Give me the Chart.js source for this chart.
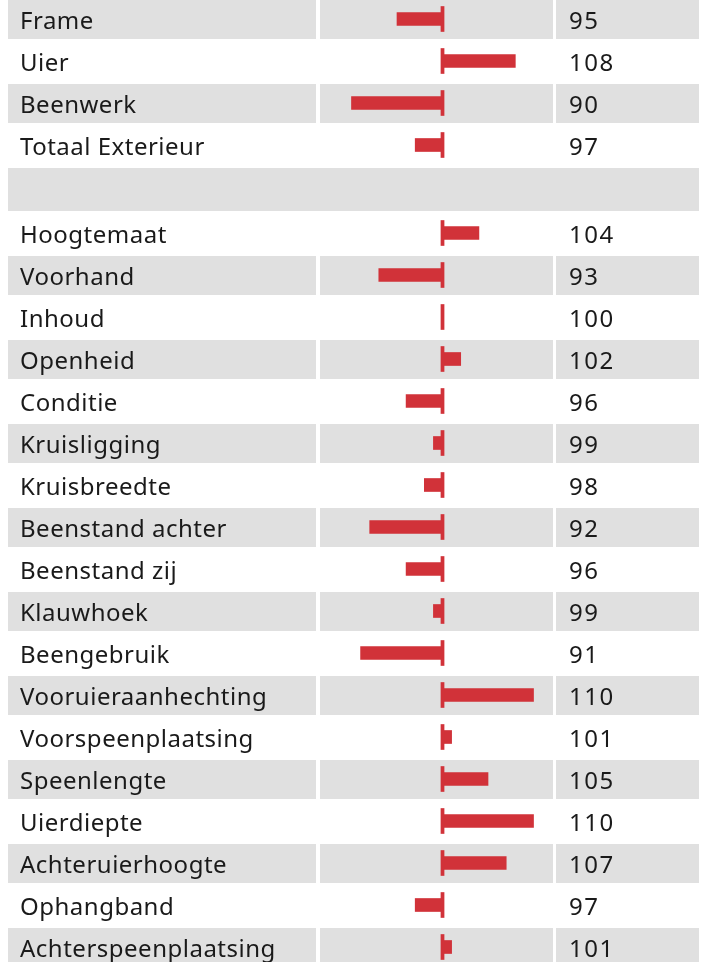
<!DOCTYPE html>
<html>
<head>
<meta charset="utf-8">
<script src="https://cdn.jsdelivr.net/npm/chart.js@4.4.1/dist/chart.umd.min.js"></script>
<style>
  html, body { margin: 0; padding: 0; background: #fff; overflow: hidden; }
  .part { position: absolute; left: 0; }
  #top { top: -2px; }
  #bottom { top: 212px; }
</style>
</head>
<body>
<div class="part" id="top"><canvas id="chartTop" width="703" height="216"></canvas></div>
<div class="part" id="bottom"><canvas id="chartBottom" width="703" height="756"></canvas></div>
<script>
// kenmerken en fokwaarden (blanco regel = scheiding)
const labels = [
  'Frame', 'Uier', 'Beenwerk', 'Totaal Exterieur', '',
  'Hoogtemaat', 'Voorhand', 'Inhoud', 'Openheid', 'Conditie',
  'Kruisligging', 'Kruisbreedte', 'Beenstand achter', 'Beenstand zij', 'Klauwhoek',
  'Beengebruik', 'Vooruieraanhechting', 'Voorspeenplaatsing', 'Speenlengte', 'Uierdiepte',
  'Achteruierhoogte', 'Ophangband', 'Achterspeenplaatsing'
];
const values = [
  95, 108, 90, 97, null,
  104, 93, 100, 102, 96,
  99, 98, 92, 96, 99,
  91, 110, 101, 105, 110,
  107, 97, 101
];
const baseline = 100;
const xMin = 86.54;
const xMax = 112.14;
const splitAt = 5; // eerste blok t/m de lege regel

const red = '#d13239';
const grey = '#e0e0e0';

// Achtergrond van de tabelrijen + teksten
function rowsPlugin(offset) {
  return {
    id: 'rows',
    beforeDraw(chart) {
      const ctx = chart.ctx;
      const y = chart.scales.y;
      ctx.save();
      ctx.fillStyle = grey;
      chart.data.labels.forEach((l, i) => {
        const idx = i + offset;
        if (idx % 2 !== 0) return;
        const c = Math.round(y.getPixelForValue(i));
        if (values[idx] === null) {
          ctx.fillRect(8, c - 19, 691, 43);
          return;
        }
        const top = c - 19;
        ctx.fillRect(8, top, 308, 39);
        ctx.fillRect(320, top, 233, 39);
        ctx.fillRect(556, top, 143, 39);
      });
      ctx.restore();
    },
    afterDraw(chart) {
      const ctx = chart.ctx;
      const y = chart.scales.y;
      ctx.save();
      ctx.fillStyle = '#1a1a1a';
      ctx.font = '24px "Noto Sans", sans-serif';
      ctx.textBaseline = 'alphabetic';
      ctx.textAlign = 'left';
      chart.data.labels.forEach((l, i) => {
        const idx = i + offset;
        const c = y.getPixelForValue(i);
        ctx.letterSpacing = '0.5px';
        ctx.fillText(l, 20, c + 9.5);
        if (values[idx] !== null) {
          ctx.letterSpacing = '1.5px';
          ctx.fillText(String(values[idx]), 569, c + 9.5);
        }
      });
      ctx.restore();
    }
  };
}

function makeChart(id, from, to, padBottom) {
  const vals = values.slice(from, to);
  return new Chart(document.getElementById(id), {
    type: 'bar',
    data: {
      labels: labels.slice(from, to),
      datasets: [
        {
          data: vals.map(v => v === null ? null : [baseline - 0.17, baseline + 0.17]),
          backgroundColor: red,
          barThickness: 25,
          grouped: false,
          order: 0
        },
        {
          data: vals.map(v => v === null ? null : [baseline, v]),
          backgroundColor: red,
          barThickness: 13,
          grouped: false,
          order: 1
        }
      ]
    },
    options: {
      indexAxis: 'y',
      responsive: false,
      animation: false,
      layout: { padding: { left: 320, right: 150, top: 0, bottom: padBottom } },
      scales: {
        x: { display: false, min: xMin, max: xMax },
        y: { display: false, offset: true }
      },
      plugins: {
        legend: { display: false },
        tooltip: { enabled: false }
      }
    },
    plugins: [rowsPlugin(from)]
  });
}

makeChart('chartTop', 0, splitAt, 6);
makeChart('chartBottom', splitAt, labels.length, 0);
</script>
</body>
</html>
